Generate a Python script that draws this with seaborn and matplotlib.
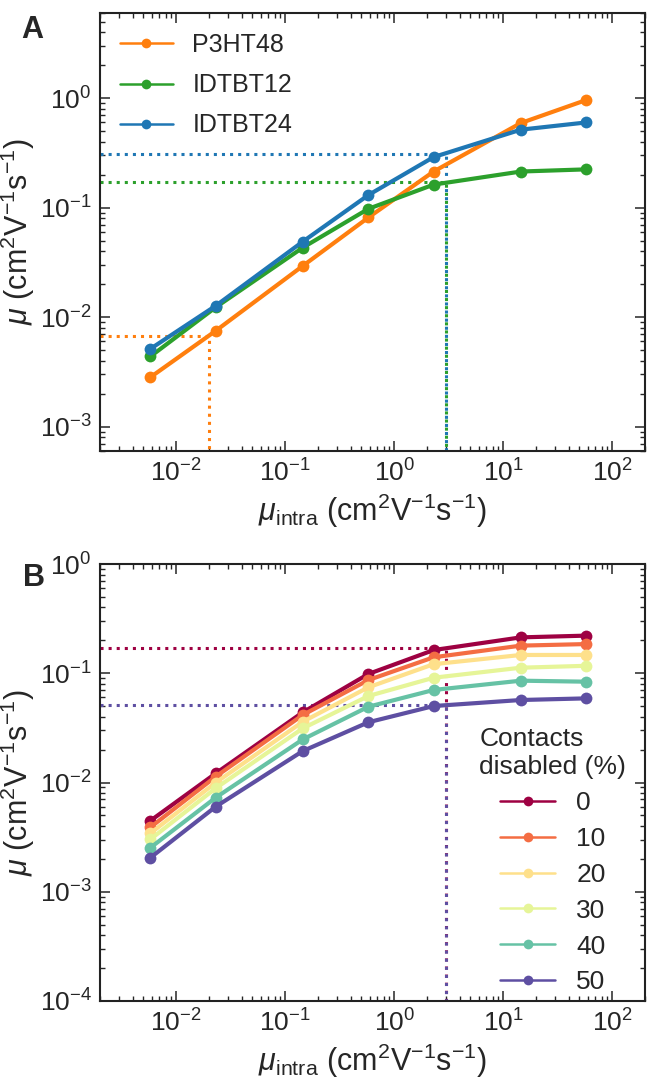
import numpy as np
import pandas as pd
import matplotlib
matplotlib.use('Agg')
import matplotlib.pyplot as plt
import seaborn as sns

# intrachain mobility values (x axis, both panels)
mu_intra = [0.0058, 0.023, 0.145, 0.58, 2.3, 14.5, 58]

# panel A: overall mobility for each polymer
polymers = ['P3HT48', 'IDTBT12', 'IDTBT24']
p3ht48 = [0.00283, 0.0075, 0.0294, 0.0814, 0.214, 0.593, 0.964]
idtbt12 = [0.00438, 0.0123, 0.0432, 0.0977, 0.1625, 0.214, 0.224]
idtbt24 = [0.00514, 0.0127, 0.049, 0.1305, 0.290, 0.516, 0.601]
poly_colors = ['tab:orange', 'tab:green', 'tab:blue']

# panel A dotted guides (mu_intra, mu)
guide_a_x = [3.0, 3.0, 0.02]
guide_a_y = [0.31, 0.17, 0.0068]
guide_a_col = ['tab:blue', 'tab:green', 'tab:orange']

# panel B: IDTBT12 with a fraction of contacts disabled
disabled = [0, 10, 20, 30, 40, 50]
mu_0 = [0.00447, 0.0121, 0.0439, 0.0985, 0.163, 0.213, 0.221]
mu_10 = [0.00389, 0.0113, 0.0415, 0.0867, 0.140, 0.179, 0.185]
mu_20 = [0.00343, 0.00996, 0.036, 0.0744, 0.121, 0.147, 0.147]
mu_30 = [0.00302, 0.00885, 0.0313, 0.0619, 0.0910, 0.1124, 0.117]
mu_40 = [0.00253, 0.00726, 0.0248, 0.0494, 0.0703, 0.0855, 0.0837]
mu_50 = [0.00205, 0.0060, 0.0194, 0.0356, 0.0501, 0.0569, 0.0589]

# panel B dotted guides
guide_b_x = [3.0, 3.0]
guide_b_y = [0.17, 0.051]
guide_b_idx = [0, 5]

sns.set_style('ticks', {'xtick.direction': 'in', 'ytick.direction': 'in'})
plt.rcParams['font.family'] = ['Liberation Sans', 'DejaVu Sans']
plt.rcParams['mathtext.fontset'] = 'custom'
plt.rcParams['mathtext.rm'] = 'Liberation Sans'
plt.rcParams['mathtext.it'] = 'Liberation Sans:italic'
plt.rcParams['mathtext.bf'] = 'Liberation Sans:bold'
plt.rcParams['font.size'] = 18

ylab = r'$\mu$ (cm$^2$V$^{-1}$s$^{-1}$)'
xlab = r'$\mu_{\mathrm{intra}}$ (cm$^2$V$^{-1}$s$^{-1}$)'

fig = plt.figure(figsize=(6.47, 10.8), dpi=100)
ax1 = fig.add_axes([100/647, 1 - 451/1080, 545/647, 438/1080])
ax2 = fig.add_axes([100/647, 1 - 1001/1080, 545/647, 437/1080])

#panel A data
df_a = pd.DataFrame({
    'mu_intra': mu_intra * 3,
    'mu': p3ht48 + idtbt12 + idtbt24,
    'polymer': np.repeat(polymers, len(mu_intra)),
})
sns.lineplot(data=df_a, x='mu_intra', y='mu', hue='polymer', hue_order=polymers,
             palette=poly_colors, marker='o', markersize=8.5, mew=0, lw=3,
             legend=False, ax=ax1, zorder=3)
lines_a = ax1.lines[:3]

#panel B data
mu_b = [mu_0, mu_10, mu_20, mu_30, mu_40, mu_50]
spec = [plt.cm.Spectral(v) for v in np.linspace(0, 1, len(disabled))]
df_b = pd.DataFrame({
    'mu_intra': mu_intra * len(disabled),
    'mu': sum(mu_b, []),
    'disabled': np.repeat([str(d) for d in disabled], len(mu_intra)),
})
sns.lineplot(data=df_b, x='mu_intra', y='mu', hue='disabled',
             hue_order=[str(d) for d in disabled], palette=spec,
             marker='o', markersize=8.5, mew=0, lw=3, legend=False, ax=ax2, zorder=3)
lines_b = ax2.lines[:6]

for ax, ylim in [(ax1, (6e-4, 6)), (ax2, (1e-4, 1))]:
    ax.set_xscale('log')
    ax.set_yscale('log')
    ax.set_xlim(2e-3, 2e2)
    ax.set_ylim(*ylim)
    ax.set_xlabel(xlab, fontsize=22, labelpad=4)
    ax.set_ylabel(ylab, fontsize=22, labelpad=2)
    ax.tick_params(which='both', direction='in', top=True, right=True)
    ax.tick_params(which='major', length=7, width=1.1, labelsize=19, pad=6)
    ax.tick_params(which='minor', length=3.8, width=1.0)
    for s in ax.spines.values():
        s.set_linewidth(1.5)
        s.set_color('#222222')

#dotted guide lines
for gx, gy, c in zip(guide_a_x, guide_a_y, guide_a_col):
    ax1.plot([2e-3, gx, gx], [gy, gy, 6e-4], ls=':', lw=2.2, color=c, zorder=1)
for gx, gy, i in zip(guide_b_x, guide_b_y, guide_b_idx):
    ax2.plot([2e-3, gx, gx], [gy, gy, 1e-4], ls=':', lw=2.2, color=spec[i], zorder=1)

leg_a = ax1.legend(lines_a, polymers, loc='upper left', frameon=False, fontsize=18,
                   handlelength=2.1, handletextpad=0.8, labelspacing=0.65,
                   borderaxespad=0.4)
for h in leg_a.legend_handles:
    h.set_linewidth(1.8)
    h.set_markersize(7)

leg_b = ax2.legend(lines_b, [str(d) for d in disabled], title='Contacts\ndisabled (%)',
                   loc='lower right', bbox_to_anchor=(0.985, -0.009), frameon=False,
                   fontsize=19, title_fontsize=19,
                   handlelength=2.1, handletextpad=0.8, labelspacing=0.45,
                   borderaxespad=0.0)
for h in leg_b.legend_handles:
    h.set_linewidth(1.8)
    h.set_markersize(7)

fig.text(32/647, 1 - 30/1080, 'A', fontsize=22, fontweight='bold', ha='center', va='center')
fig.text(34/647, 1 - 578/1080, 'B', fontsize=22, fontweight='bold', ha='center', va='center')

fig.savefig('out.png', dpi=100)
